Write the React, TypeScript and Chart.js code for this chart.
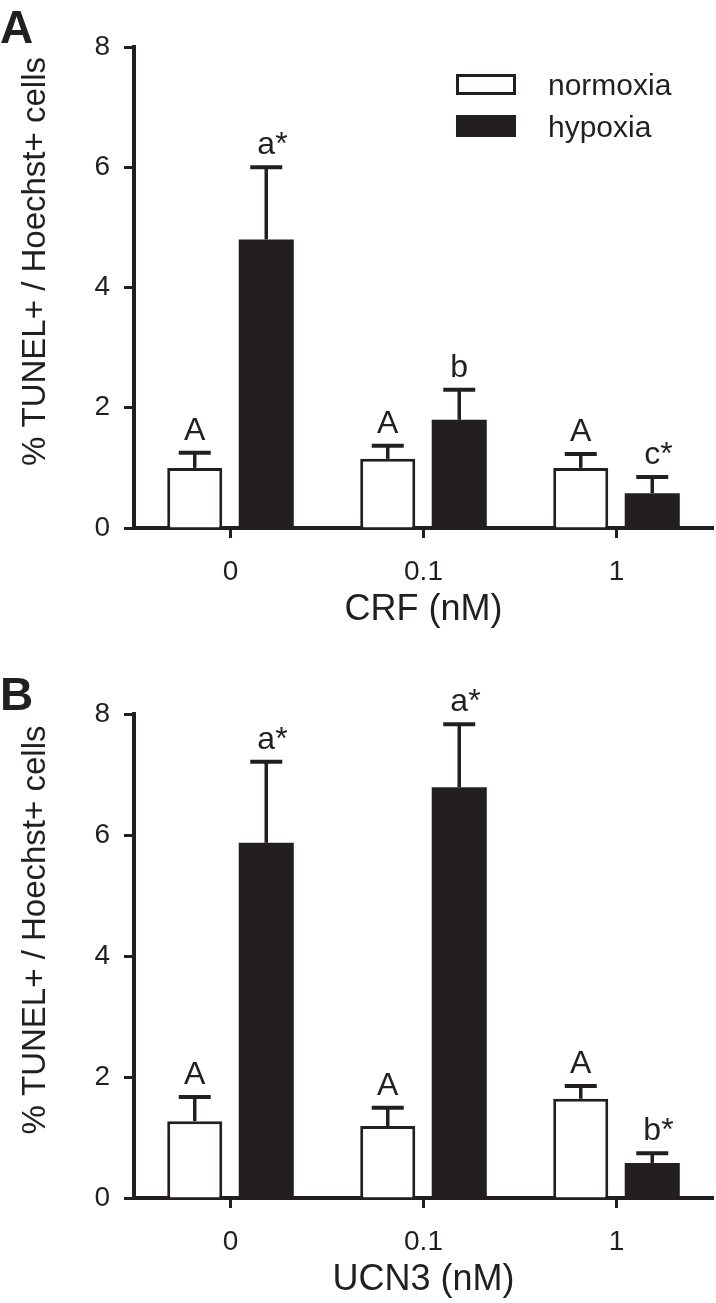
import React, { useEffect, useRef } from "react";
import { Chart, registerables } from "chart.js";

Chart.register(...registerables);

// ---------- data ----------
const doses = ["0", "0.1", "1"];
const seriesNames = ["normoxia", "hypoxia"];
const yTickMin = 0;
const yTickMax = 8;
const yTickStep = 2;
const yTitle = "% TUNEL+ / Hoechst+ cells";

const crfTitle = "CRF (nM)";
const crfNormoxia = [1.0, 1.15, 1.0];
const crfNormoxiaSem = [0.25, 0.22, 0.23];
const crfHypoxia = [4.8, 1.8, 0.58];
const crfHypoxiaSem = [1.2, 0.5, 0.27];
const crfNormoxiaLetters = ["A", "A", "A"];
const crfHypoxiaLetters = ["a*", "b", "c*"];

const ucnTitle = "UCN3 (nM)";
const ucnNormoxia = [1.27, 1.19, 1.64];
const ucnNormoxiaSem = [0.4, 0.3, 0.21];
const ucnHypoxia = [5.87, 6.79, 0.58];
const ucnHypoxiaSem = [1.34, 1.04, 0.16];
const ucnNormoxiaLetters = ["A", "A", "A"];
const ucnHypoxiaLetters = ["a*", "a*", "b*"];

// ---------- style ----------
const INK = "#231f20";
const FONT = "'Liberation Sans', Arial, Helvetica, sans-serif";
const WIDTH = 716;

type PanelCfg = {
  panelLetter: string;
  xTitle: string;
  normoxia: number[];
  normoxiaSem: number[];
  normoxiaLetters: string[];
  hypoxia: number[];
  hypoxiaSem: number[];
  hypoxiaLetters: string[];
  top: number;
  height: number;
  chartTop: number;
  chartBottom: number;
  legend: boolean;
  letterBaseline: number;
};

const panels: PanelCfg[] = [
  {
    panelLetter: "A",
    xTitle: crfTitle,
    normoxia: crfNormoxia,
    normoxiaSem: crfNormoxiaSem,
    normoxiaLetters: crfNormoxiaLetters,
    hypoxia: crfHypoxia,
    hypoxiaSem: crfHypoxiaSem,
    hypoxiaLetters: crfHypoxiaLetters,
    top: 0,
    height: 640,
    chartTop: 47,
    chartBottom: 528,
    legend: true,
    letterBaseline: 43,
  },
  {
    panelLetter: "B",
    xTitle: ucnTitle,
    normoxia: ucnNormoxia,
    normoxiaSem: ucnNormoxiaSem,
    normoxiaLetters: ucnNormoxiaLetters,
    hypoxia: ucnHypoxia,
    hypoxiaSem: ucnHypoxiaSem,
    hypoxiaLetters: ucnHypoxiaLetters,
    top: 640,
    height: 663,
    chartTop: 74,
    chartBottom: 558,
    legend: false,
    letterBaseline: 70,
  },
];

const CHART_LEFT = 134;
const CHART_RIGHT_PAD = 3;
const X_TITLE_SIZE = 36;
const TICK_SIZE = 28;
const NOTE_SIZE = 32;
const Y_TITLE_SIZE = 33;

function makeOverlay(cfg: PanelCfg) {
  return {
    id: "overlay" + cfg.panelLetter,
    afterDatasetsDraw(chart: any) {
      const ctx = chart.ctx as CanvasRenderingContext2D;
      const yScale = chart.scales.y;
      const area = chart.chartArea;
      ctx.save();
      // error bars + significance letters
      chart.data.datasets.forEach((ds: any, di: number) => {
        const meta = chart.getDatasetMeta(di);
        meta.data.forEach((bar: any, i: number) => {
          const v = ds.data[i];
          const top = yScale.getPixelForValue(v + ds.sem[i]);
          const x = bar.x;
          ctx.strokeStyle = INK;
          ctx.lineCap = "butt";
          ctx.lineWidth = 3.5;
          ctx.beginPath();
          ctx.moveTo(x, bar.y);
          ctx.lineTo(x, top);
          ctx.stroke();
          ctx.lineWidth = 4;
          ctx.beginPath();
          ctx.moveTo(x - 16, top);
          ctx.lineTo(x + 16, top);
          ctx.stroke();
          const label: string = ds.letters[i];
          const main = label.replace("*", "");
          ctx.font = `${NOTE_SIZE}px ${FONT}`;
          ctx.fillStyle = INK;
          ctx.textAlign = "left";
          ctx.textBaseline = "alphabetic";
          const w = ctx.measureText(main).width;
          ctx.fillText(label, x - w / 2, top - 13);
        });
      });
      // y-axis title
      ctx.save();
      ctx.translate(36, (area.top + area.bottom) / 2 - 26);
      ctx.rotate(-Math.PI / 2);
      ctx.font = `${Y_TITLE_SIZE}px ${FONT}`;
      ctx.fillStyle = INK;
      ctx.textAlign = "center";
      ctx.textBaseline = "middle";
      ctx.fillText(yTitle, 0, 0);
      ctx.restore();
      // panel letter
      ctx.font = `bold 46px ${FONT}`;
      ctx.fillStyle = INK;
      ctx.textAlign = "left";
      ctx.textBaseline = "alphabetic";
      ctx.fillText(cfg.panelLetter, 0, cfg.letterBaseline);
      // legend
      if (cfg.legend) {
        const ds = chart.data.datasets;
        const bx = 456, bw = 60;
        const rows = [
          { y: 74, h: 21 },
          { y: 115, h: 22 },
        ];
        ds.forEach((d: any, k: number) => {
          const r = rows[k];
          if (d.backgroundColor === "#ffffff") {
            ctx.fillStyle = "#ffffff";
            ctx.fillRect(bx, r.y, bw, r.h);
            ctx.strokeStyle = INK;
            ctx.lineWidth = 3;
            ctx.strokeRect(bx + 1.5, r.y + 1.5, bw - 3, r.h - 3);
          } else {
            ctx.fillStyle = d.backgroundColor;
            ctx.fillRect(bx, r.y, bw, r.h);
          }
          ctx.fillStyle = INK;
          ctx.font = `30px ${FONT}`;
          ctx.textAlign = "left";
          ctx.textBaseline = "alphabetic";
          ctx.fillText(d.label, 548, r.y + r.h);
        });
      }
      ctx.restore();
    },
  };
}

function Panel({ cfg }: { cfg: PanelCfg }) {
  const ref = useRef<HTMLCanvasElement>(null);
  useEffect(() => {
    const canvas = ref.current!;
    const xAxisHeight = cfg.height - cfg.chartBottom;
    const titleLine = X_TITLE_SIZE * 1.2;
    const titlePadBottom = cfg.height - titleLine / 2 - (cfg.chartBottom + 82);
    const chart = new Chart(canvas, {
      type: "bar",
      data: {
        labels: doses,
        datasets: [
          {
            label: seriesNames[0],
            data: cfg.normoxia,
            sem: cfg.normoxiaSem,
            letters: cfg.normoxiaLetters,
            backgroundColor: "#ffffff",
            borderColor: INK,
            borderWidth: 3,
            borderSkipped: "start",
          } as any,
          {
            label: seriesNames[1],
            data: cfg.hypoxia,
            sem: cfg.hypoxiaSem,
            letters: cfg.hypoxiaLetters,
            backgroundColor: INK,
            borderColor: INK,
            borderWidth: 0,
          } as any,
        ],
      },
      options: {
        responsive: false,
        animation: false,
        devicePixelRatio: 1,
        categoryPercentage: 0.741,
        barPercentage: 0.77,
        layout: {
          padding: { top: cfg.chartTop, left: 0, right: CHART_RIGHT_PAD, bottom: 0 },
        },
        plugins: {
          legend: { display: false },
          tooltip: { enabled: false },
        },
        scales: {
          x: {
            offset: true,
            grid: {
              offset: false,
              drawOnChartArea: false,
              drawTicks: true,
              tickLength: 10,
              tickWidth: 3,
              tickColor: INK,
              color: INK,
            },
            border: { display: true, color: INK, width: 4 },
            ticks: {
              color: INK,
              font: { size: TICK_SIZE, family: FONT },
              padding: 17,
              maxRotation: 0,
            },
            title: {
              display: true,
              text: cfg.xTitle,
              color: INK,
              font: { size: X_TITLE_SIZE, family: FONT },
              padding: { top: 0, bottom: titlePadBottom },
            },
            afterFit: (scale: any) => {
              scale.height = xAxisHeight;
            },
          },
          y: {
            min: yTickMin,
            max: yTickMax,
            grid: {
              drawOnChartArea: false,
              drawTicks: true,
              tickLength: 10,
              tickWidth: 3,
              tickColor: INK,
              color: INK,
            },
            border: { display: true, color: INK, width: 4 },
            ticks: {
              stepSize: yTickStep,
              color: INK,
              font: { size: TICK_SIZE, family: FONT },
              padding: 14,
            },
            afterFit: (scale: any) => {
              scale.width = CHART_LEFT;
            },
          },
        },
      } as any,
      plugins: [makeOverlay(cfg)],
    });
    return () => chart.destroy();
  }, [cfg]);
  return (
    <canvas
      ref={ref}
      width={WIDTH}
      height={cfg.height}
      style={{
        position: "absolute",
        left: 0,
        top: cfg.top,
        width: WIDTH,
        height: cfg.height,
        display: "block",
      }}
    />
  );
}

export default function App() {
  return (
    <div
      style={{
        position: "absolute",
        left: 0,
        top: 0,
        width: WIDTH,
        height: 1303,
        background: "#ffffff",
        overflow: "hidden",
      }}
    >
      {panels.map((p) => (
        <Panel key={p.panelLetter} cfg={p} />
      ))}
    </div>
  );
}
